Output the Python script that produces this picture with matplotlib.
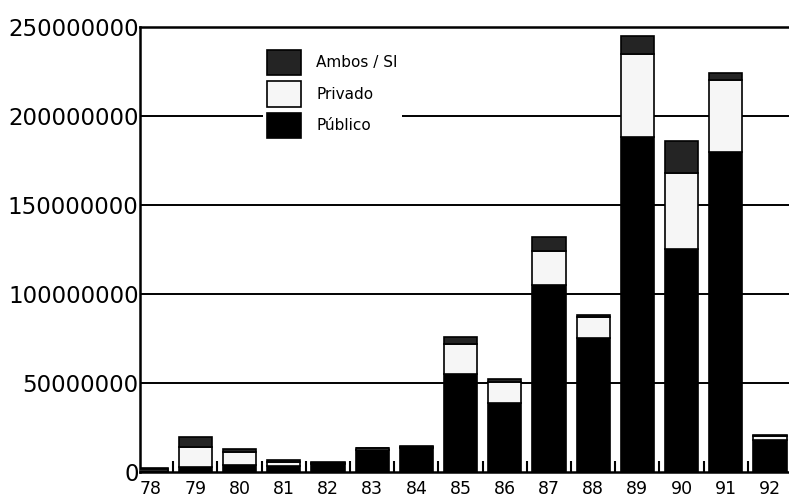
import matplotlib.pyplot as plt
import numpy as np
from matplotlib.ticker import FuncFormatter, FixedLocator

years = ["78", "79", "80", "81", "82", "83", "84", "85", "86", "87", "88", "89", "90", "91", "92"]

# valores en millones
publico = [0.3, 3, 4, 3.5, 4.5, 12.3, 13.3, 55, 39, 105, 75, 188, 125, 180, 18]
privado = [1.5, 11, 7.5, 2, 0.8, 0.9, 1, 17, 11.5, 19, 12, 47, 43, 40, 2.5]
ambos = [0.2, 5.5, 1.5, 1, 0.3, 0.4, 0.4, 4, 1.5, 8, 1, 10, 18, 4, 0.5]

yticks = [0, 50000000, 100000000, 150000000, 200000000, 250000000]

pub = np.array(publico) * 1e6
priv = np.array(privado) * 1e6
amb = np.array(ambos) * 1e6
x = np.arange(len(years))

fig = plt.figure(figsize=(7.89, 5.04), dpi=100)
ax = fig.add_axes([0.1775, 0.0635, 0.8225, 0.883])

w = 0.75
ax.bar(x, pub, width=w, color="black", edgecolor="black", linewidth=1.2,
       label="Público", zorder=3)
ax.bar(x, priv, width=w, bottom=pub, color="#f6f6f6", edgecolor="black",
       linewidth=1.2, label="Privado", zorder=3)
ax.bar(x, amb, width=w, bottom=pub + priv, color="#242424", edgecolor="black",
       linewidth=1.2, label="Ambos / SI", zorder=3)

ax.set_xlim(-0.25, 14.43)
ax.set_ylim(0, 250000000)

# lineas horizontales
for v in yticks[1:-1]:
    ax.axhline(v, color="black", linewidth=1.4, zorder=1)

ax.set_yticks(yticks)
ax.yaxis.set_major_formatter(FuncFormatter(lambda v, p: f"{int(v)}"))
ax.tick_params(axis="y", length=0, pad=1, labelsize=16.5)

ax.set_xticks(x)
ax.set_xticklabels(years)
ax.tick_params(axis="x", which="major", length=0, pad=6, labelsize=12.5)
ax.xaxis.set_minor_locator(FixedLocator(x[:-1] + 0.5))
ax.tick_params(axis="x", which="minor", direction="in", length=8, width=1.5)

for s in ["left", "bottom", "top"]:
    ax.spines[s].set_linewidth(1.8)
ax.spines["right"].set_visible(False)

handles, labels = ax.get_legend_handles_labels()
leg = ax.legend(handles[::-1], labels[::-1], loc="upper left",
                bbox_to_anchor=(0.177, 0.976), fontsize=11, frameon=True,
                handlelength=2.2, handleheight=2.2, labelspacing=0.38,
                handletextpad=1.0, borderpad=0.3)
leg.get_frame().set_edgecolor("none")
leg.get_frame().set_facecolor("white")
leg.get_frame().set_alpha(1)
leg.set_zorder(5)

fig.savefig("out.png", dpi=100)
